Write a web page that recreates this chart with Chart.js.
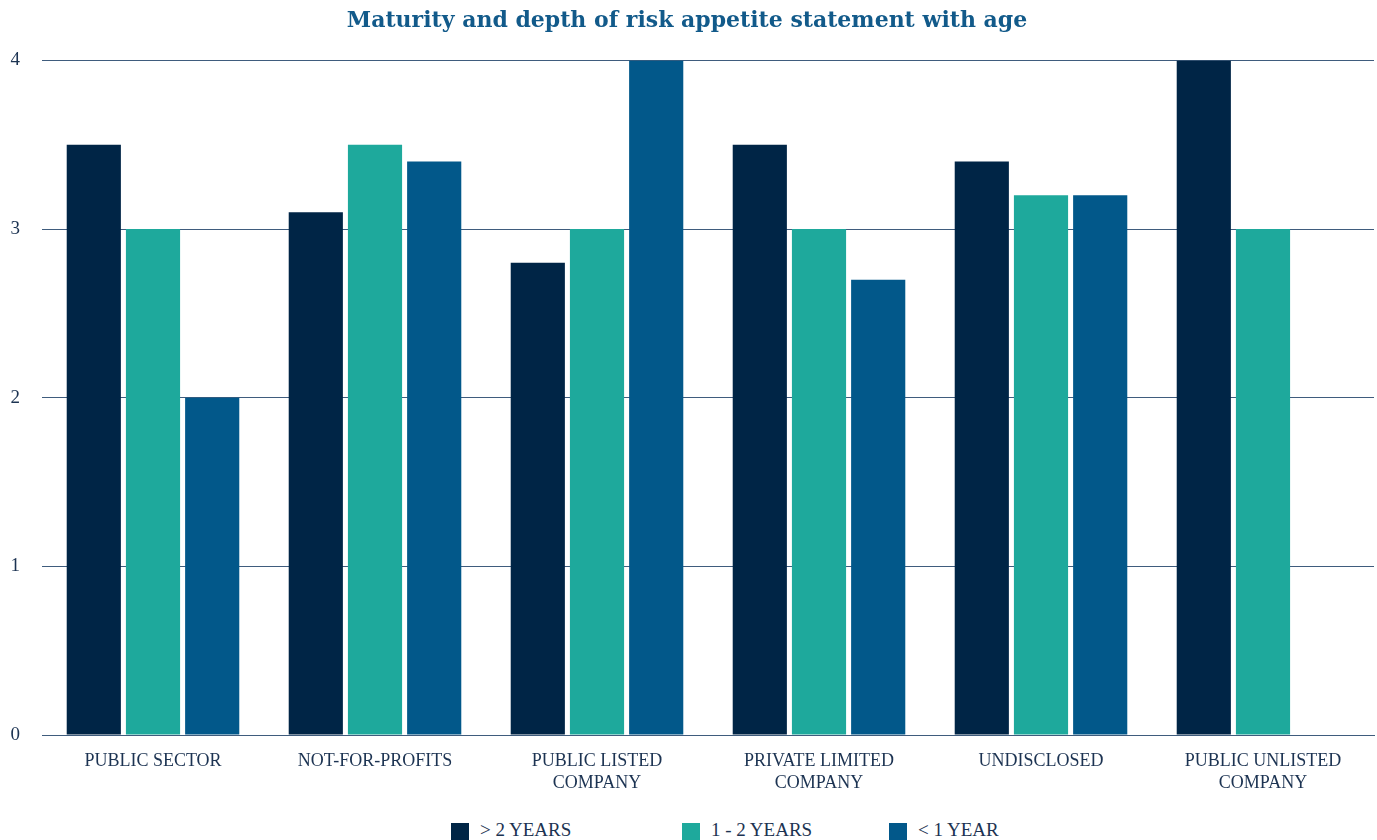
<!DOCTYPE html>
<html>
<head>
<meta charset="utf-8">
<script src="https://cdn.jsdelivr.net/npm/chart.js@4"></script>
<style>
  body { margin: 0; background: #fff; }
  #page { position: relative; width: 1377px; height: 840px; overflow: hidden; }
  #wrap { position: absolute; left: 0; top: 0; width: 1377px; height: 809px; }
  #legend { position: absolute; left: 451px; top: 819px; display: flex; align-items: center;
            font-family: 'Liberation Serif', serif; font-size: 19px; color: #1c3352; }
  #legend .item { display: flex; align-items: center; }
  #legend .item:nth-child(1) { width: 231px; }
  #legend .item:nth-child(2) { width: 207px; }
  #legend .box { width: 18px; height: 18px; margin-right: 11px; margin-top: 4px; }
</style>
</head>
<body>
<div id="page">
  <div id="wrap"><canvas id="mainChart"></canvas></div>
  <div id="legend"></div>
</div>
<script>
var categories = [
  'PUBLIC SECTOR',
  'NOT-FOR-PROFITS',
  ['PUBLIC LISTED', 'COMPANY'],
  ['PRIVATE LIMITED', 'COMPANY'],
  'UNDISCLOSED',
  ['PUBLIC UNLISTED', 'COMPANY']
];
var overTwoYears = [3.5, 3.1, 2.8, 3.5, 3.4, 4];
var oneToTwoYears = [3, 3.5, 3, 3, 3.2, 3];
var underOneYear = [2, 3.4, 4, 2.7, 3.2, null];
var yTicks = [0, 1, 2, 3, 4];

var serif = "'Liberation Serif', 'Times New Roman', serif";
var gridColor = '#3f5c7d';
var textColor = '#1c3352';

function bars(label, color, data) {
  return {
    label: label,
    backgroundColor: color,
    borderColor: color,
    borderWidth: 0,
    categoryPercentage: 0.8,
    barPercentage: 0.915,
    data: data
  };
}

var chartdata = {
  labels: categories,
  datasets: [
    bars('> 2 YEARS', '#002546', overTwoYears),
    bars('1 - 2 YEARS', '#1ea99c', oneToTwoYears),
    bars('< 1 YEAR', '#02588a', underOneYear)
  ]
};

var chart = document.getElementById('mainChart');

var myChart = new Chart(chart, {
  type: 'bar',
  data: chartdata,
  options: {
    responsive: true,
    maintainAspectRatio: false,
    animation: false,
    layout: { padding: { left: 0, right: 3, top: 0, bottom: 0 } },
    plugins: {
      tooltip: { enabled: false },
      legend: { display: false },
      title: {
        display: true,
        text: 'Maturity and depth of risk appetite statement with age',
        color: '#125a8a',
        font: { family: "'DejaVu Serif', serif", size: 22, weight: 'bold' },
        padding: { top: 8, bottom: 26 }
      }
    },
    scales: {
      x: {
        grid: { display: false, drawTicks: false },
        border: { display: true, color: gridColor, width: 1 },
        ticks: {
          color: textColor,
          font: { family: serif, size: 18, lineHeight: 1.22 },
          padding: 15,
          maxRotation: 0,
          autoSkip: false
        }
      },
      y: {
        min: 0,
        max: 4,
        afterBuildTicks: function(axis) {
          axis.ticks = yTicks.map(function(v) { return { value: v }; });
        },
        afterFit: function(axis) {
          axis.width = 42;
        },
        grid: { color: gridColor, lineWidth: 1, drawTicks: false },
        border: { display: false },
        ticks: {
          color: textColor,
          font: { family: serif, size: 19 },
          padding: 22
        }
      }
    }
  }
});

// legend row under the canvas, built from the datasets
var legend = document.getElementById('legend');
chartdata.datasets.forEach(function(ds) {
  var item = document.createElement('div');
  item.className = 'item';
  var box = document.createElement('span');
  box.className = 'box';
  box.style.background = ds.backgroundColor;
  var txt = document.createElement('span');
  txt.textContent = ds.label;
  item.appendChild(box);
  item.appendChild(txt);
  legend.appendChild(item);
});
</script>
</body>
</html>
